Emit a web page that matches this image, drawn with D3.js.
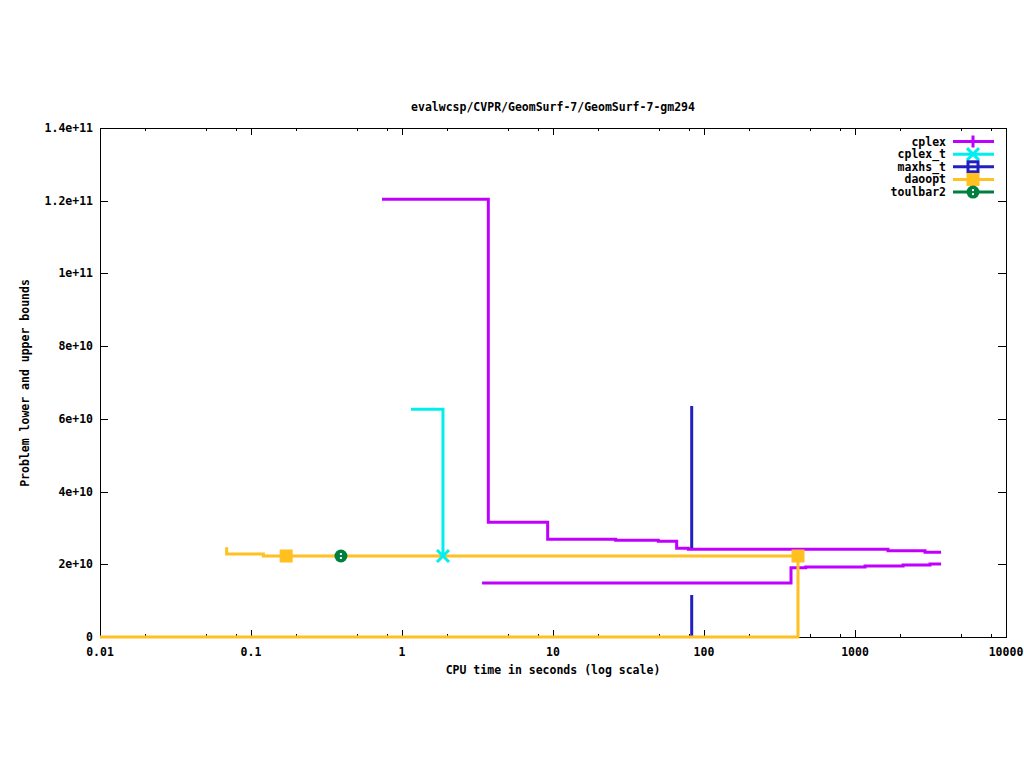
<!DOCTYPE html>
<html>
<head>
<meta charset="utf-8">
<script src="https://cdn.jsdelivr.net/npm/d3@7"></script>
<style>
  html, body { margin: 0; padding: 0; background: #fff; }
  svg { display: block; }
  text { font-family: "DejaVu Sans Mono", "Liberation Mono", monospace; font-weight: bold; font-size: 11.5px; fill: #000; }
</style>
</head>
<body>
<svg id="chart" width="1024" height="768"></svg>
<script>
// ---------------- data (x = CPU seconds, y = bound in units of 1e10) ----------------
const title = "evalwcsp/CVPR/GeomSurf-7/GeomSurf-7-gm294";
const xLabel = "CPU time in seconds (log scale)";
const yLabel = "Problem lower and upper bounds";

const xTickValues = [0.01, 0.1, 1, 10, 100, 1000, 10000];
const xTickLabels = ["0.01", "0.1", "1", "10", "100", "1000", "10000"];
const xMinorMultipliers = [2, 5, 8];
const yTickValues = [0, 2, 4, 6, 8, 10, 12, 14];
const yTickLabels = ["0", "2e+10", "4e+10", "6e+10", "8e+10", "1e+11", "1.2e+11", "1.4e+11"];

const seriesNames = ["cplex", "cplex_t", "maxhs_t", "daoopt", "toulbar2"];
const seriesColors = ["#c000ff", "#00eeee", "#2020c0", "#ffc020", "#008040"];
const seriesSymbols = ["plus", "cross", "openSquare", "filledSquare", "circle"];

const cplexUpperX = [0.737, 3.73, 9.22, 26.0, 49.8, 65.9, 78.7, 1654, 2908, 3715];
const cplexUpperY = [12.04, 3.155, 2.687, 2.660, 2.632, 2.440, 2.412, 2.374, 2.330, 2.330];
const cplexLowerX = [3.39, 376.9, 471.6, 1165, 2080, 3139, 3715];
const cplexLowerY = [1.485, 1.906, 1.925, 1.953, 1.980, 2.008, 2.008];

const cplexTUpperX = [1.147, 1.868];
const cplexTUpperY = [6.263, 2.228];
const cplexTMarkX = [1.868];
const cplexTMarkY = [2.228];

const maxhsTUpperX = [82.9, 82.9];
const maxhsTUpperY = [6.354, 2.448];
const maxhsTLowerX = [82.9, 82.9];
const maxhsTLowerY = [0, 1.155];

const daooptUpperX = [0.069, 0.069, 0.1207, 419.3];
const daooptUpperY = [2.467, 2.283, 2.228, 2.228];
const daooptLowerX = [0.01, 419.3];
const daooptLowerY = [0, 2.228];
const daooptMarkX = [0.171, 419.3];
const daooptMarkY = [2.228, 2.228];

const toulbar2MarkX = [0.394];
const toulbar2MarkY = [2.228];

// ---------------- layout ----------------
const L = 100, R = 1006, T = 128, B = 637;
const svg = d3.select("#chart");
const x = d3.scaleLog().domain([0.01, 10000]).range([L, R]);
const y = d3.scaleLinear().domain([0, 14]).range([B, T]);

const zip = (xs, ys) => xs.map((v, i) => [v, ys[i]]);

// ---------------- axes ----------------
const minorX = [];
for (let d = 0.01; d < 10000; d *= 10) xMinorMultipliers.forEach(m => minorX.push(+(d * m).toPrecision(6)));

function tickGroup(axis, transform) {
  const g = svg.append("g").attr("transform", transform).call(axis);
  g.select(".domain").remove();
  g.selectAll("text").remove();
  g.selectAll("line").attr("stroke", "#000").attr("stroke-width", 1).attr("shape-rendering", "crispEdges");
  return g;
}
tickGroup(d3.axisBottom(x).tickValues(xTickValues).tickSize(-7), `translate(0,${B})`);
tickGroup(d3.axisBottom(x).tickValues(minorX).tickSize(-3), `translate(0,${B})`);
tickGroup(d3.axisTop(x).tickValues(xTickValues).tickSize(-7), `translate(0,${T})`);
tickGroup(d3.axisTop(x).tickValues(minorX).tickSize(-3), `translate(0,${T})`);
tickGroup(d3.axisLeft(y).tickValues(yTickValues).tickSize(-8), `translate(${L},0)`);
tickGroup(d3.axisRight(y).tickValues(yTickValues).tickSize(-8), `translate(${R},0)`);

svg.append("rect").attr("x", L + 0.5).attr("y", T + 0.5).attr("width", R - L).attr("height", B - T)
  .attr("fill", "none").attr("stroke", "#000").attr("stroke-width", 1);

svg.append("g").selectAll("text").data(xTickValues).join("text")
  .attr("x", d => x(d)).attr("y", 652).attr("text-anchor", "middle").attr("dominant-baseline", "central")
  .text((d, i) => xTickLabels[i]);
svg.append("g").selectAll("text").data(yTickValues).join("text")
  .attr("x", 93).attr("y", d => y(d)).attr("text-anchor", "end").attr("dominant-baseline", "central")
  .text((d, i) => yTickLabels[i]);

svg.append("text").attr("x", 553).attr("y", 107).attr("text-anchor", "middle").attr("dominant-baseline", "central").text(title);
svg.append("text").attr("x", 553).attr("y", 670).attr("text-anchor", "middle").attr("dominant-baseline", "central").text(xLabel);
svg.append("text").attr("transform", "translate(25,383) rotate(-90)").attr("text-anchor", "middle").attr("dominant-baseline", "central").text(yLabel);

// ---------------- lines ----------------
const line = d3.line().x(d => x(d[0])).y(d => y(d[1])).curve(d3.curveStepAfter);
const lines = [
  [zip(cplexUpperX, cplexUpperY), 0],
  [zip(cplexLowerX, cplexLowerY), 0],
  [zip(cplexTUpperX, cplexTUpperY), 1],
  [zip(maxhsTUpperX, maxhsTUpperY), 2],
  [zip(maxhsTLowerX, maxhsTLowerY), 2],
  [zip(daooptUpperX, daooptUpperY), 3],
  [zip(daooptLowerX, daooptLowerY), 3]
];
svg.append("g").selectAll("path").data(lines).join("path")
  .attr("d", d => line(d[0])).attr("fill", "none")
  .attr("stroke", d => seriesColors[d[1]]).attr("stroke-width", 3)
  .attr("stroke-linejoin", "miter").attr("stroke-linecap", "butt");

// ---------------- markers ----------------
function drawSymbol(g, kind, color) {
  const s = 6;
  if (kind === "plus") {
    g.append("path").attr("d", `M${-s},0H${s}M0,${-s}V${s}`).attr("stroke", color).attr("stroke-width", 3).attr("fill", "none");
  } else if (kind === "cross") {
    g.append("path").attr("d", `M${-s},${-s}L${s},${s}M${-s},${s}L${s},${-s}`).attr("stroke", color).attr("stroke-width", 3).attr("fill", "none");
  } else if (kind === "openSquare") {
    g.append("rect").attr("x", -5).attr("y", -5).attr("width", 10).attr("height", 10).attr("stroke", color).attr("stroke-width", 3).attr("fill", "#fff");
    g.append("path").attr("d", "M-5,0H5").attr("stroke", color).attr("stroke-width", 3);
  } else if (kind === "filledSquare") {
    g.append("rect").attr("x", -6.5).attr("y", -6.5).attr("width", 13).attr("height", 13).attr("fill", color);
  } else if (kind === "circle") {
    g.append("circle").attr("r", 6.5).attr("fill", color);
    g.append("rect").attr("x", -1).attr("y", -3).attr("width", 2).attr("height", 2).attr("fill", "#fff");
    g.append("rect").attr("x", -1).attr("y", 1).attr("width", 2).attr("height", 2).attr("fill", "#fff");
  }
}
const marks = [
  ...zip(cplexTMarkX, cplexTMarkY).map(p => [p, 1]),
  ...zip(daooptMarkX, daooptMarkY).map(p => [p, 3]),
  ...zip(toulbar2MarkX, toulbar2MarkY).map(p => [p, 4])
];
marks.forEach(([p, si]) => {
  const g = svg.append("g").attr("transform", `translate(${x(p[0])},${y(p[1])})`);
  drawSymbol(g, seriesSymbols[si], seriesColors[si]);
});

// ---------------- legend ----------------
seriesNames.forEach((name, i) => {
  const ly = 141.5 + i * 12.65;
  svg.append("text").attr("x", 946).attr("y", ly).attr("text-anchor", "end").attr("dominant-baseline", "central").text(name);
  svg.append("path").attr("d", `M953,${ly}H994`).attr("stroke", seriesColors[i]).attr("stroke-width", 3);
  const g = svg.append("g").attr("transform", `translate(973,${ly})`);
  drawSymbol(g, seriesSymbols[i], seriesColors[i]);
});
</script>
</body>
</html>
